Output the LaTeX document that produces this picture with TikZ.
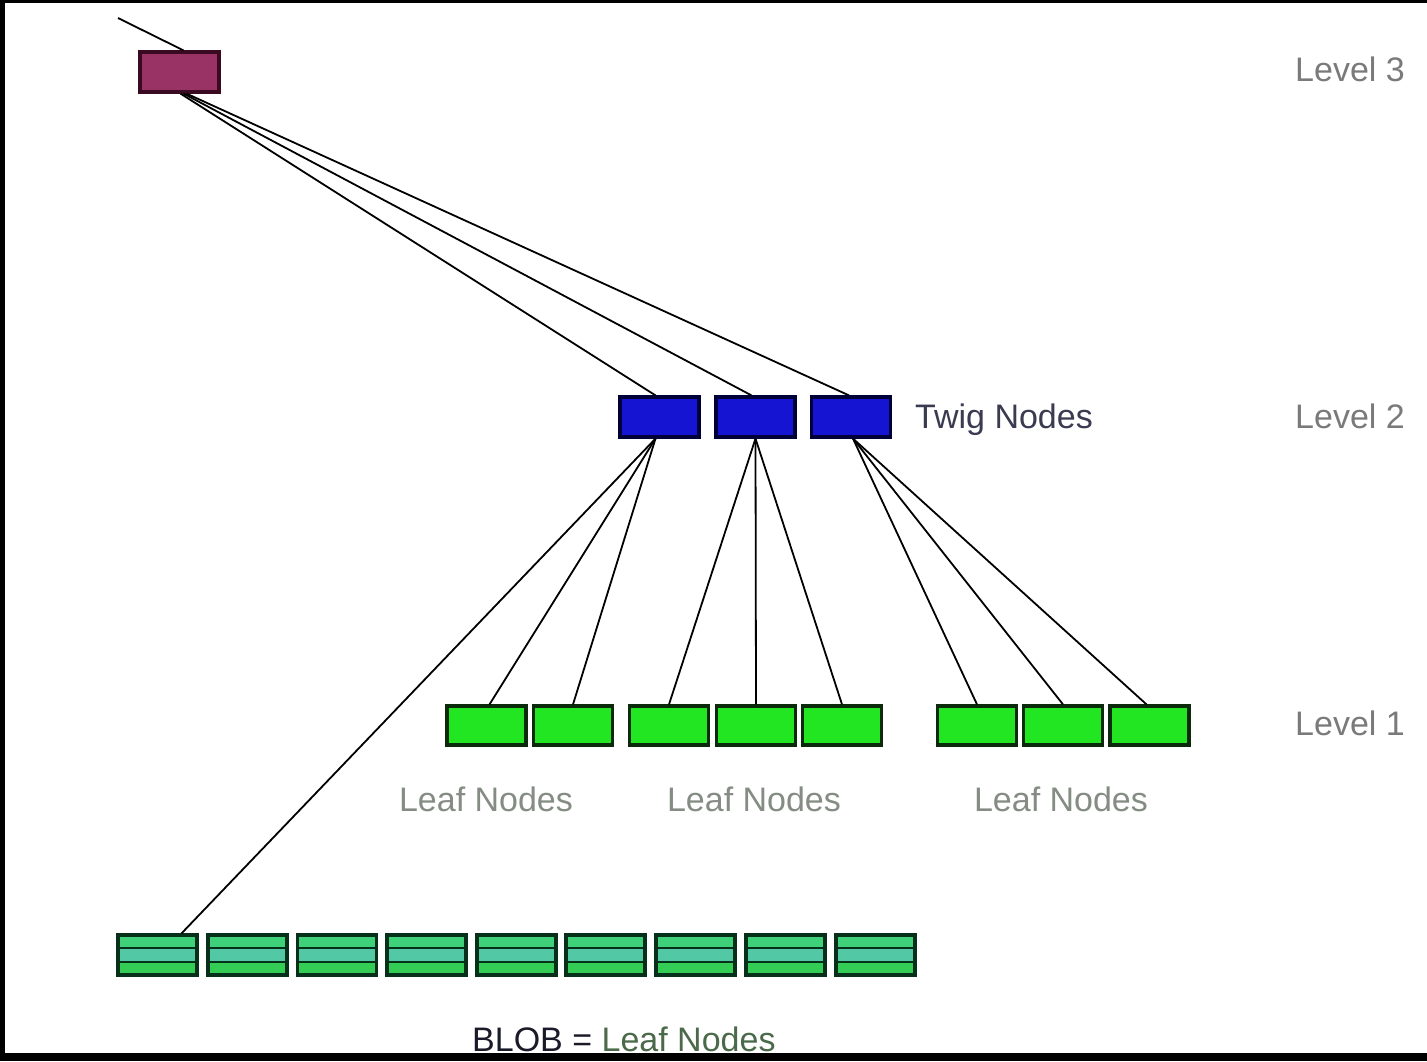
\documentclass[tikz,border=0pt]{standalone}
\usepackage{fontspec}
\setmainfont{Liberation Sans}
\usetikzlibrary{calc}

\definecolor{rootfill}{HTML}{993366}
\definecolor{rootedge}{HTML}{3A0A20}
\definecolor{twigfill}{HTML}{1414D2}
\definecolor{twigedge}{HTML}{000038}
\definecolor{leaffill}{HTML}{22E622}
\definecolor{leafedge}{HTML}{0B2A0B}
\definecolor{blobtop}{HTML}{3FD07A}
\definecolor{blobmid}{HTML}{52C8A4}
\definecolor{blobbot}{HTML}{33CC55}
\definecolor{blobedge}{HTML}{06301A}
\definecolor{levelgray}{HTML}{7A7A7A}
\definecolor{twigtext}{HTML}{3A3A50}
\definecolor{leaftext}{HTML}{848C84}
\definecolor{blobtext}{HTML}{1A1A2A}
\definecolor{blobgreen}{HTML}{4A6A4A}

\tikzset{
  box/.style={rectangle, minimum width=79pt, minimum height=40pt, inner sep=0pt, line width=3.2pt},
  rootbox/.style={box, fill=rootfill, draw=rootedge},
  twigbox/.style={box, fill=twigfill, draw=twigedge},
  leafbox/.style={box, minimum height=39pt, fill=leaffill, draw=leafedge},
  blobbox/.style={box, draw=blobedge, fill=blobmid,
    path picture={
      \fill[blobtop] (path picture bounding box.north west) rectangle ([yshift=-13pt]path picture bounding box.north east);
      \fill[blobbot] ([yshift=13pt]path picture bounding box.south west) rectangle (path picture bounding box.south east);
      \draw[blobedge, line width=2.8pt] ([yshift=-13pt]path picture bounding box.north west) -- ([yshift=-13pt]path picture bounding box.north east);
      \draw[blobedge, line width=2.8pt] ([yshift=13pt]path picture bounding box.south west) -- ([yshift=13pt]path picture bounding box.south east);
    }},
  link/.style={draw=black, line width=1.8pt},
  lbl/.style={inner sep=0pt, anchor=base west, font=\fontsize{34}{40}\selectfont},
  lblc/.style={inner sep=0pt, anchor=base, font=\fontsize{34}{40}\selectfont},
}

\begin{document}
\begin{tikzpicture}[x=1pt, y=-1pt]
  % page and dark frame
  \useasboundingbox (0,0) rectangle (1427,1061);
  \fill[white] (0,0) rectangle (1427,1061);
  \fill[black] (0,0) rectangle (1427,3);
  \fill[black] (0,0) rectangle (5,1061);
  \fill[black] (0,1053) rectangle (1427,1061);

  % level 3 (root)
  \node[rootbox] (root) at (179.5,72) {};
  \coordinate (inlet) at (118,18);

  % level 2 (twig nodes)
  \node[twigbox] (t1) at (659.5,417) {};
  \node[twigbox] (t2) at (755.5,417) {};
  \node[twigbox] (t3) at (851,417) {};

  % level 1 (leaf nodes)
  \node[leafbox] (l1) at (486.5,725.5) {};
  \node[leafbox] (l2) at (573,725.5) {};
  \node[leafbox] (l3) at (669,725.5) {};
  \node[leafbox] (l4) at (756,725.5) {};
  \node[leafbox] (l5) at (842,725.5) {};
  \node[leafbox] (l6) at (977,725.5) {};
  \node[leafbox] (l7) at (1063,725.5) {};
  \node[leafbox] (l8) at (1149.5,725.5) {};

  % BLOB row
  \foreach \i/\x in {1/157.5,2/247.5,3/337,4/426.5,5/516.5,6/605.5,7/695.5,8/785.5,9/875.5}
    \node[blobbox] (b\i) at (\x,955) {};

  % connectors
  \draw[link] (inlet) -- ([xshift=4pt]root.north);
  \draw[link] ([xshift=1pt]root.south) -- ([xshift=-4pt]t1.north);
  \draw[link] ([xshift=4pt]root.south) -- ([xshift=-4pt]t2.north);
  \draw[link] ([xshift=7pt]root.south) -- ([xshift=-2pt]t3.north);

  \draw[link] ([xshift=-4pt]t1.south) -- ([xshift=3pt]l1.north);
  \draw[link] ([xshift=-4pt]t1.south) -- (l2.north);
  \draw[link] ([xshift=-4pt]t1.south) -- ([xshift=24pt]b1.north);

  \draw[link] (t2.south) -- (l3.north);
  \draw[link] (t2.south) -- (l4.north);
  \draw[link] (t2.south) -- (l5.north);

  \draw[link] ([xshift=2pt]t3.south) -- (l6.north);
  \draw[link] ([xshift=2pt]t3.south) -- (l7.north);
  \draw[link] ([xshift=2pt]t3.south) -- ([xshift=-3pt]l8.north);

  % labels
  \node[lbl, text=levelgray] (lv3) at (1295,81) {Level 3};
  \node[lbl, text=levelgray] (lv2) at (1295,428) {Level 2};
  \node[lbl, text=levelgray] (lv1) at (1295,735) {Level 1};
  \node[lbl, text=twigtext] (twl) at (915,428) {Twig Nodes};
  \node[lblc, text=leaftext] (lf1) at (486,811) {Leaf Nodes};
  \node[lblc, text=leaftext] (lf2) at (754,811) {Leaf Nodes};
  \node[lblc, text=leaftext] (lf3) at (1061,811) {Leaf Nodes};
  \node[lbl] (blob) at (472,1051) {\textcolor{blobtext}{BLOB =} \textcolor{blobgreen}{Leaf Nodes}};
\end{tikzpicture}
\end{document}
